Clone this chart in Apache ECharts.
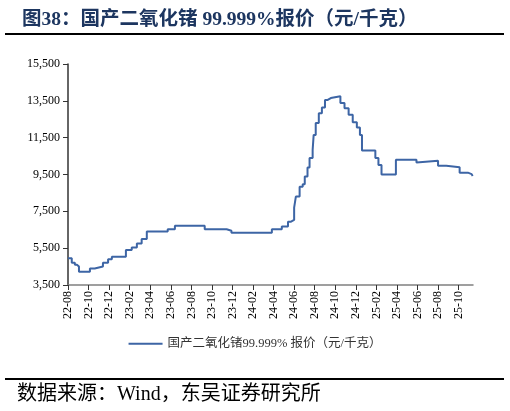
<!DOCTYPE html>
<html><head><meta charset="utf-8">
<script src="https://cdn.jsdelivr.net/npm/echarts@6/dist/echarts.min.js"></script>
<style>html,body{margin:0;padding:0;background:#fff}#c{width:510px;height:411px}</style>
</head><body><div id="c"></div>
<script>
// Change points of the price series (step line): date -> price (元/千克)
var dates = ["2022-08-01","2022-08-12","2022-08-21","2022-08-27","2022-09-03","2022-10-05","2022-10-19","2022-11-13","2022-11-28","2022-12-09",
"2023-01-20","2023-02-07","2023-02-22","2023-03-06","2023-03-21","2023-05-22","2023-06-13","2023-09-10","2023-11-14","2023-11-28",
"2024-03-26","2024-04-25","2024-05-13","2024-05-22","2024-06-01","2024-06-06","2024-06-17","2024-06-26","2024-07-02","2024-07-10",
"2024-07-16","2024-07-25","2024-07-28","2024-08-04","2024-08-13","2024-08-22","2024-08-31","2024-09-09","2024-09-18","2024-10-16",
"2024-10-28","2024-11-10","2024-11-22","2024-12-04","2024-12-13","2024-12-19","2025-01-28","2025-02-07","2025-02-16","2025-03-28",
"2025-05-28","2025-06-01","2025-08-01","2025-08-25","2025-10-04","2025-10-28","2025-11-09","2025-11-12"];
var prices = [4950,4710,4600,4500,4220,4400,4500,4710,4900,5040,
5400,5530,5760,6000,6400,6530,6720,6530,6450,6340,
6530,6670,6940,7030,7700,8300,8840,8970,9390,9880,
10390,10840,11650,12290,12830,13140,13550,13650,13750,13380,
13100,12740,12340,12050,11650,10800,10390,10020,9500,10300,
10150,10250,9980,9900,9600,9520,9420,9420];
var tickLabels = ["22-08","22-10","22-12","23-02","23-04","23-06","23-08","23-10","23-12","24-02","24-04","24-06","24-08","24-10","24-12","25-02","25-04","25-06","25-08","25-10"];
var seriesName = "国产二氧化锗99.999% 报价（元/千克）";
var titleText = "图38：国产二氧化锗 99.999%报价（元/千克）";
var sourceText = "数据来源：Wind，东吴证券研究所";

function monthIndex(s){
  var p = s.split("-").map(Number);
  return (p[0]-2022)*12 + (p[1]-8) + (p[2]-1)/30;
}
var pts = dates.map(function(d,i){ return [monthIndex(d), prices[i]]; });

var serif = "'Liberation Serif','Times New Roman','Noto Sans CJK SC',serif";
var chart = echarts.init(document.getElementById('c'));
chart.setOption({
  animation:false,
  title:{text:titleText,left:17,top:5,textStyle:{fontSize:19.5,fontWeight:'bold',color:'#1d3660',fontFamily:serif}},
  graphic:[
    {type:'rect',shape:{x:5,y:33,width:499,height:2},style:{fill:'#000'}},
    {type:'rect',shape:{x:5,y:378,width:499,height:2},style:{fill:'#000'}},
    {type:'text',left:17,top:385,style:{text:sourceText,fontSize:20,fill:'#000',fontFamily:serif}}
  ],
  legend:{bottom:56,left:'center',itemWidth:34,itemHeight:2,icon:'rect',
    textStyle:{fontSize:12.5,color:'#333',fontFamily:serif},data:[seriesName]},
  grid:{left:68,right:37,top:64,bottom:126},
  xAxis:{type:'value',min:0,max:39.4,interval:2,
    axisLine:{lineStyle:{color:'#808080',width:1.5}},
    axisTick:{show:true,length:5,lineStyle:{color:'#333'}},
    splitLine:{show:false},
    axisLabel:{rotate:90,margin:6,fontSize:12,color:'#000',fontFamily:serif,showMaxLabel:false,
      formatter:function(v){ var i=Math.round(v/2); return tickLabels[i]||''; }}},
  yAxis:{type:'value',min:3500,max:15500,interval:2000,
    axisLine:{show:true,lineStyle:{color:'#333',width:1.5}},
    axisTick:{show:true,length:5,lineStyle:{color:'#333'}},
    splitLine:{show:false},
    axisLabel:{margin:8,fontSize:12,color:'#000',fontFamily:serif,
      formatter:function(v){ return v.toLocaleString('en-US'); }}},
  series:[{name:seriesName,type:'line',step:'end',data:pts,showSymbol:false,
    lineStyle:{color:'#3d65a5',width:2},itemStyle:{color:'#3d65a5'}}]
});
</script></body></html>
